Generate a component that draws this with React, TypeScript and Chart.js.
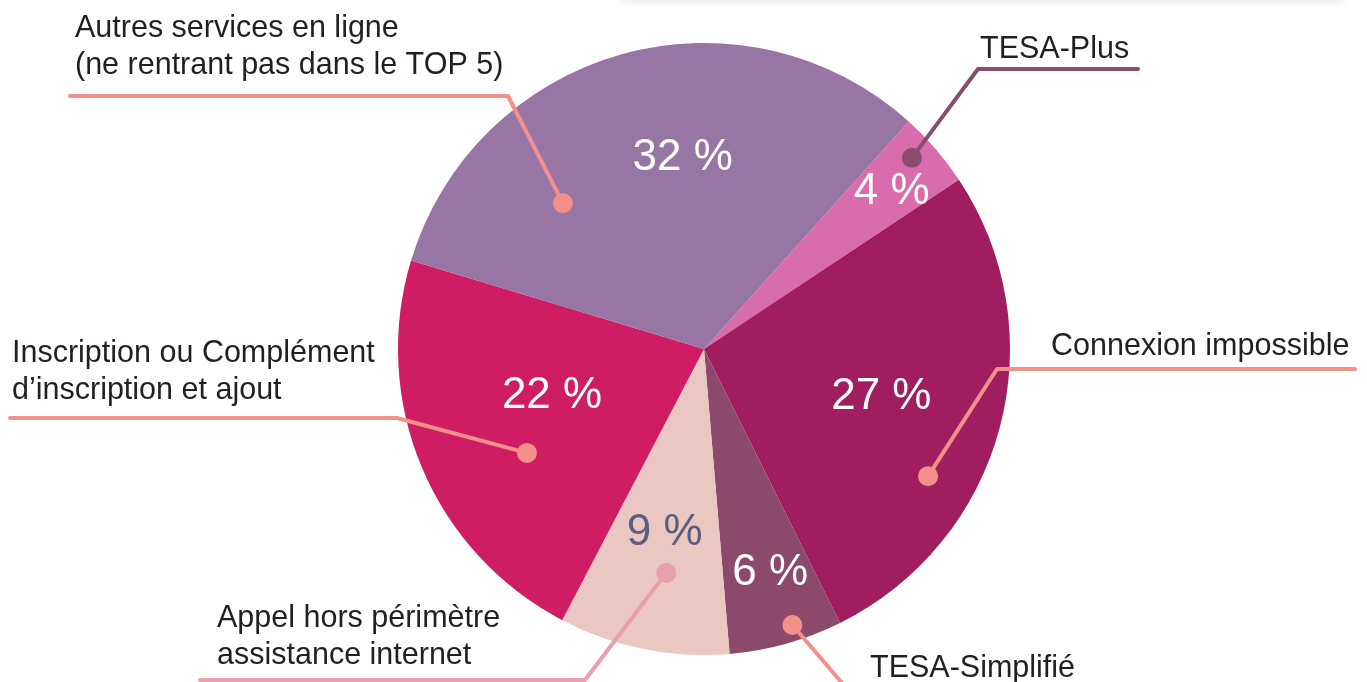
import React, { useEffect, useRef } from "react";
import { Chart, registerables } from "chart.js";

Chart.register(...registerables);

const categories = [
  "TESA-Plus",
  "Connexion impossible",
  "TESA-Simplifié",
  "Appel hors périmètre assistance internet",
  "Inscription ou Complément d’inscription et ajout",
  "Autres services en ligne (ne rentrant pas dans le TOP 5)",
];
const values = [4, 27, 6, 9, 22, 32];
const valueLabels = ["4 %", "27 %", "6 %", "9 %", "22 %", "32 %"];
const labelLines = [
  ["TESA-Plus"],
  ["Connexion impossible"],
  ["TESA-Simplifié"],
  ["Appel hors périmètre", "assistance internet"],
  ["Inscription ou Complément", "d’inscription et ajout"],
  ["Autres services en ligne", "(ne rentrant pas dans le TOP 5)"],
];

const sliceColors = ["#d86cac", "#a01e5f", "#8b4a6b", "#ebc7c1", "#cf1d64", "#9775a5"];
const pctColors = ["#ffffff", "#ffffff", "#ffffff", "#5b5e7c", "#ffffff", "#ffffff"];
const leaderColors = ["#8b4d6e", "#f29089", "#f29089", "#e8a0ae", "#f29089", "#f29089"];

// placement of annotations (fraction along slice, fraction of radius)
const pctPlace = [
  [0.56, 0.8],
  [0.5, 0.6],
  [0.46, 0.763],
  [0.52, 0.615],
  [0.57, 0.52],
  [0.58, 0.628],
];
const dotPlace = [
  [0.375, 0.923],
  [0.65, 0.842],
  [0.4, 0.947],
  [0.444, 0.742],
  [0.404, 0.671],
  [0.253, 0.663],
];
// leader path relative to pie centre: kink point, end x; text origin, line height
const leaderPath = [
  { kx: 274, ky: -280, ex: 434, tx: 276, ty: -291 },
  { kx: 293, ky: 20, ex: 651, tx: 347, ty: 6 },
  { kx: 144, ky: 341, ex: 144, tx: 166, ty: 328 },
  { kx: -119, ky: 331, ex: -504, tx: -487, ty: 278 },
  { kx: -307, ky: 69, ex: -694, tx: -692, ty: 13 },
  { kx: -196, ky: -253, ex: -634, tx: -629, ty: -312 },
];
const lineHeight = 36.5;

const FONT = '"Liberation Sans", Arial, Helvetica, sans-serif';

const annotPlugin = {
  id: "annot",
  beforeDraw(chart: any) {
    const ctx = chart.ctx;
    ctx.save();
    ctx.shadowColor = "rgba(0,0,0,0.10)";
    ctx.shadowBlur = 8;
    ctx.shadowOffsetY = 1;
    ctx.fillStyle = "#ffffff";
    ctx.fillRect(622, -30, 722, 30);
    ctx.restore();
  },
  afterDatasetsDraw(chart: any) {
    const ctx = chart.ctx;
    const meta = chart.getDatasetMeta(0);
    ctx.save();
    meta.data.forEach((arc: any, i: number) => {
      const cx = arc.x;
      const cy = arc.y;
      const R = arc.outerRadius;
      const a0 = arc.startAngle;
      const a1 = arc.endAngle;
      const at = (t: number, f: number) => {
        const a = a0 + t * (a1 - a0);
        return [cx + Math.cos(a) * R * f, cy + Math.sin(a) * R * f];
      };
      // percentage
      const [px, py] = at(pctPlace[i][0], pctPlace[i][1]);
      ctx.font = `44px ${FONT}`;
      ctx.fillStyle = pctColors[i];
      ctx.textAlign = "center";
      ctx.textBaseline = "middle";
      ctx.fillText(valueLabels[i], px, py);

      // leader
      const [dx, dy] = at(dotPlace[i][0], dotPlace[i][1]);
      const L = leaderPath[i];
      ctx.strokeStyle = leaderColors[i];
      ctx.lineWidth = 4;
      ctx.lineCap = "round";
      ctx.lineJoin = "round";
      ctx.beginPath();
      ctx.moveTo(dx, dy);
      ctx.lineTo(cx + L.kx, cy + L.ky);
      ctx.lineTo(cx + L.ex, cy + L.ky);
      ctx.stroke();
      ctx.fillStyle = leaderColors[i];
      ctx.beginPath();
      ctx.arc(dx, dy, 10, 0, Math.PI * 2);
      ctx.fill();

      // text
      ctx.font = `30.5px ${FONT}`;
      ctx.fillStyle = "#231f20";
      ctx.textAlign = "left";
      ctx.textBaseline = "alphabetic";
      labelLines[i].forEach((s, j) => {
        ctx.fillText(s, cx + L.tx, cy + L.ty + j * lineHeight);
      });
    });
    ctx.restore();
  },
};

export default function App() {
  const ref = useRef<HTMLCanvasElement>(null);
  useEffect(() => {
    if (!ref.current) return;
    const chart = new Chart(ref.current, {
      type: "pie",
      data: {
        labels: categories,
        datasets: [
          {
            data: values,
            backgroundColor: sliceColors,
            borderWidth: 0,
          },
        ],
      },
      options: {
        animation: false,
        responsive: true,
        maintainAspectRatio: false,
        rotation: 42,
        layout: { padding: { top: 43, bottom: 27, left: 398, right: 357 } },
        plugins: {
          legend: { display: false },
          tooltip: { enabled: false },
        },
      },
      plugins: [annotPlugin],
    });
    return () => chart.destroy();
  }, []);
  return (
    <div
      style={{
        position: "fixed",
        left: 0,
        top: 0,
        width: 1367,
        height: 682,
        background: "#ffffff",
      }}
    >
      <canvas ref={ref} />
    </div>
  );
}
